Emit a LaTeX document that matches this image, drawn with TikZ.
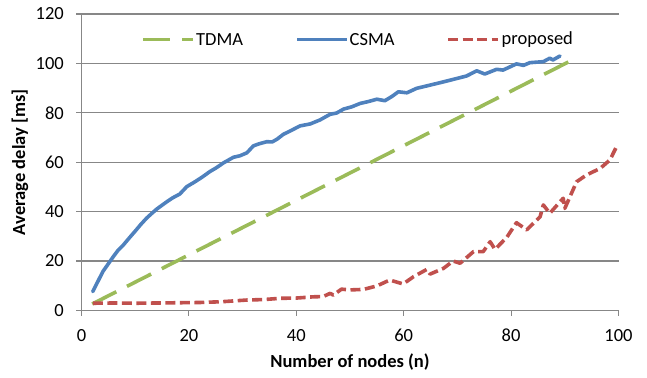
\documentclass[tikz,border=0pt]{standalone}
\usepackage{fontspec}
\setmainfont{Carlito}
\definecolor{tdmac}{HTML}{9BBB59}
\definecolor{csmac}{HTML}{4F81BD}
\definecolor{propc}{HTML}{C0504D}
\definecolor{gridc}{HTML}{878787}
\tikzset{
  txt/.style={font=\fontsize{18.5bp}{20bp}\selectfont, inner sep=0pt},
  ttl/.style={font=\fontsize{18.5bp}{20bp}\selectfont\bfseries, inner sep=0pt},
  gridline/.style={draw=gridc, line width=1.1bp},
  tdmaline/.style={draw=tdmac, line width=3.6bp, dash pattern=on 27bp off 12bp},
  csmaline/.style={draw=csmac, line width=3.6bp, line join=round, line cap=round},
  propline/.style={draw=propc, line width=3.6bp, line join=round, dash pattern=on 10bp off 4.5bp},
}
\begin{document}
\begin{tikzpicture}[x=1bp,y=1bp]
\useasboundingbox (0,0) rectangle (647,377);
\begin{scope}[shift={(81.5,66.6)}, x=5.37bp, y=2.47bp]
  % grid
  \foreach \v in {20,40,...,120} {
    \draw[gridline] (0,\v) -- (100,\v);
    \draw[gridline] (0,\v) -- ++(-5.5bp,0);
  }
  \draw[gridline] (0,0) -- ++(-5.5bp,0);
  % axes
  \draw[gridline] (0,0) -- (100,0);
  \draw[gridline] (0,0) -- (0,120);
  \foreach \v in {0,20,...,100} {
    \draw[gridline] (\v,0) -- ++(0,-5.5bp);
    \node[txt] (xl\v) at (\v,0) [yshift=-24.8bp] {\v};
  }
  \foreach \v in {0,20,...,120} {
    \node[txt, anchor=east] (yl\v) at (0,\v) [xshift=-17.5bp] {\v};
  }
  \node[ttl] (xtitle) at (50,0) [yshift=-51.8bp] {Number of nodes (n)};
  \node[ttl, rotate=90] (ytitle) at ([xshift=-61.5bp]0,60) {Average delay [ms]};
  % TDMA
  \draw[tdmaline] (2,2.6) -- (91.5,101.5);
  % CSMA
  \draw[csmaline] plot coordinates {
    (2.1,7.6) (3,11.5) (4,15.8) (5,18.9) (5.9,21.7) (6.8,24.3) (7.8,26.5) (9,29.6) (10,32.1) (11,34.7) (12.1,37.3)
    (13,39.1) (14,41.0) (15,42.6) (15.9,44.0) (17,45.6) (18.3,47.1) (19.6,50.1) (21,51.9) (22.5,54.0) (23.9,56.2)
    (25,57.6) (26.5,59.8) (28.3,62.0) (29.5,62.6) (30.8,63.8) (32.0,66.6) (33,67.4) (34.5,68.3) (35.5,68.2) (36.4,69.3)
    (37.6,71.3) (39,72.8) (40.7,74.7) (42.6,75.5) (44.4,77.1) (46.3,79.4) (47.5,79.9) (48.8,81.5) (50.3,82.4) (51.9,83.8)
    (53.5,84.6) (55.0,85.5) (56.5,84.9) (57.8,86.6) (59.0,88.5) (60.6,88.1) (62.4,89.9) (64.5,91.0) (66.8,92.2) (69,93.4)
    (71.7,94.9) (73.6,97.0) (75.1,95.7) (77.3,97.6) (78.5,97.3) (81.0,99.8) (82.3,99.2) (83.5,100.3) (86.0,100.7)
    (87.2,102.1) (87.8,101.4) (89.1,103.0)
  };
  % proposed
  \draw[propline] plot coordinates {
    (2.1,2.9) (6,3.0) (10,2.9) (14,3.0) (18,3.1) (22,3.2) (26,3.5) (30.8,4.2) (34,4.4) (37,4.9) (40,5.0) (43.2,5.5)
    (45,5.6) (46.3,6.9) (46.9,6.2) (48.4,8.6) (50.0,8.3) (52.5,8.5) (55.0,9.9) (57.4,12.3) (59.9,10.7) (61.8,13.6)
    (64.3,16.6) (64.9,14.7) (67.4,17.0) (69.2,20.0) (70.5,19.1) (73.0,23.8) (74.8,23.8) (76.1,27.8) (77.0,24.7)
    (79.2,29.6) (81.0,35.5) (82.9,32.6) (85.4,37.9) (86.0,42.7) (87.2,39.3) (89.7,45.4) (90.0,41.3) (92.2,52.1)
    (94.1,54.9) (96.6,57.5) (98.4,60.9) (99.7,66.6)
  };
\end{scope}
% legend
\coordinate (ta) at (143,337.7);
\coordinate (tb) at (193,337.7);
\draw[tdmaline] (ta) -- (tb);
\node[txt, anchor=west] (tdmalbl) at (196,337.7) {TDMA};
\coordinate (ca) at (297,337.7);
\coordinate (cb) at (347,337.7);
\draw[csmaline, line cap=butt] (ca) -- (cb);
\node[txt, anchor=west] (csmalbl) at (349.5,337.7) {CSMA};
\coordinate (pa) at (448,337.7);
\coordinate (pb) at (498,337.7);
\draw[propline] (pa) -- (pb);
\node[txt, anchor=west] (proplbl) at (501.5,337.7) {proposed};
\end{tikzpicture}
\end{document}
